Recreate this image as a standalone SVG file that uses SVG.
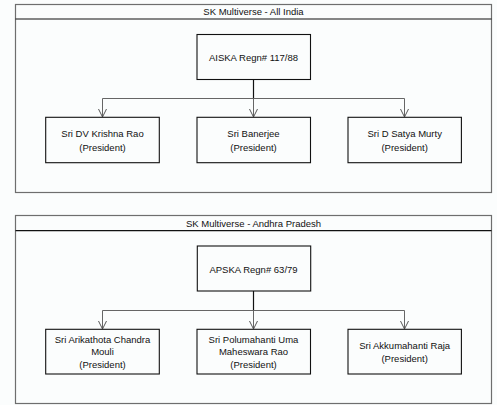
<svg xmlns="http://www.w3.org/2000/svg" width="497" height="405" viewBox="0 0 497 405">
<defs>
<style>
.bg{fill:#fbfdfd}
.cont{fill:none;stroke:#6e6e6e;stroke-width:1.2}
.bar{stroke:#111;stroke-width:1.2}
.box{fill:#fbfdfd;stroke:#111;stroke-width:1.1}
.t{font-family:"Liberation Sans",Arial,sans-serif;font-size:9.5px;fill:#111;text-anchor:middle}
.stem{stroke:#111;stroke-width:1.2;fill:none}
.edge{stroke:#555;stroke-width:0.9;fill:none}
</style>
<marker id="arr" viewBox="0 0 10 10" refX="9" refY="5" markerWidth="9" markerHeight="9" markerUnits="userSpaceOnUse" orient="auto">
<path d="M0,0.5 L9,5 L0,9.5" fill="none" stroke="#555" stroke-width="1.1"/>
</marker>
</defs>
<rect class="bg" x="0" y="0" width="497" height="405"/>

<g id="container-all-india">
<rect class="cont" x="15.5" y="4.5" width="476" height="188"/>
<line class="bar" x1="15.5" y1="19" x2="491.5" y2="19"/>
<text class="t" x="253.5" y="15">SK Multiverse - All India</text>
</g>

<g id="container-andhra">
<rect class="cont" x="15.5" y="215.5" width="476" height="188"/>
<line class="bar" x1="15.5" y1="230.7" x2="491.5" y2="230.7"/>
<text class="t" x="253.5" y="227.4">SK Multiverse - Andhra Pradesh</text>
</g>

<g id="connectors">
<path class="stem" d="M253.5,79.5 V98.5"/>
<path class="edge" d="M253.5,98.5 H102.5 V117" marker-end="url(#arr)"/>
<path class="edge" d="M253.5,98.5 V117" marker-end="url(#arr)"/>
<path class="edge" d="M253.5,98.5 H404.5 V117" marker-end="url(#arr)"/>
<path class="stem" d="M253.5,291 V310.5"/>
<path class="edge" d="M253.5,310.5 H102.5 V329" marker-end="url(#arr)"/>
<path class="edge" d="M253.5,310.5 V329" marker-end="url(#arr)"/>
<path class="edge" d="M253.5,310.5 H404.5 V329" marker-end="url(#arr)"/>
</g>

<g id="aiska">
<rect class="box" x="197" y="34.5" width="113.5" height="45"/>
<text class="t" x="253.5" y="60.7">AISKA Regn# 117/88</text>
</g>
<g id="dv-krishna-rao">
<rect class="box" x="45.7" y="117.3" width="113.6" height="45.4"/>
<text class="t" x="102.5" y="137.4">Sri DV Krishna Rao</text>
<text class="t" x="102.5" y="151">(President)</text>
</g>
<g id="banerjee">
<rect class="box" x="197" y="117.3" width="113.5" height="45.4"/>
<text class="t" x="253.5" y="137.4">Sri Banerjee</text>
<text class="t" x="253.5" y="151">(President)</text>
</g>
<g id="d-satya-murty">
<rect class="box" x="348" y="117.3" width="113.4" height="45.4"/>
<text class="t" x="404.7" y="137.4">Sri D Satya Murty</text>
<text class="t" x="404.7" y="151">(President)</text>
</g>

<g id="apska">
<rect class="box" x="197.3" y="246" width="113.4" height="45"/>
<text class="t" x="253.5" y="272.7">APSKA Regn# 63/79</text>
</g>
<g id="arikathota">
<rect class="box" x="45.7" y="329.3" width="113.6" height="44.7"/>
<text class="t" x="102.5" y="342.7">Sri Arikathota Chandra</text>
<text class="t" x="102.5" y="355.1">Mouli</text>
<text class="t" x="102.5" y="368.4">(President)</text>
</g>
<g id="polumahanti">
<rect class="box" x="197" y="329.3" width="113.5" height="44.7"/>
<text class="t" x="253.5" y="342.7">Sri Polumahanti Uma</text>
<text class="t" x="253.5" y="355.1">Maheswara Rao</text>
<text class="t" x="253.5" y="368.4">(President)</text>
</g>
<g id="akkumahanti">
<rect class="box" x="348" y="329.3" width="113.4" height="44.7"/>
<text class="t" x="404.7" y="349.1">Sri Akkumahanti Raja</text>
<text class="t" x="404.7" y="362.4">(President)</text>
</g>
</svg>
